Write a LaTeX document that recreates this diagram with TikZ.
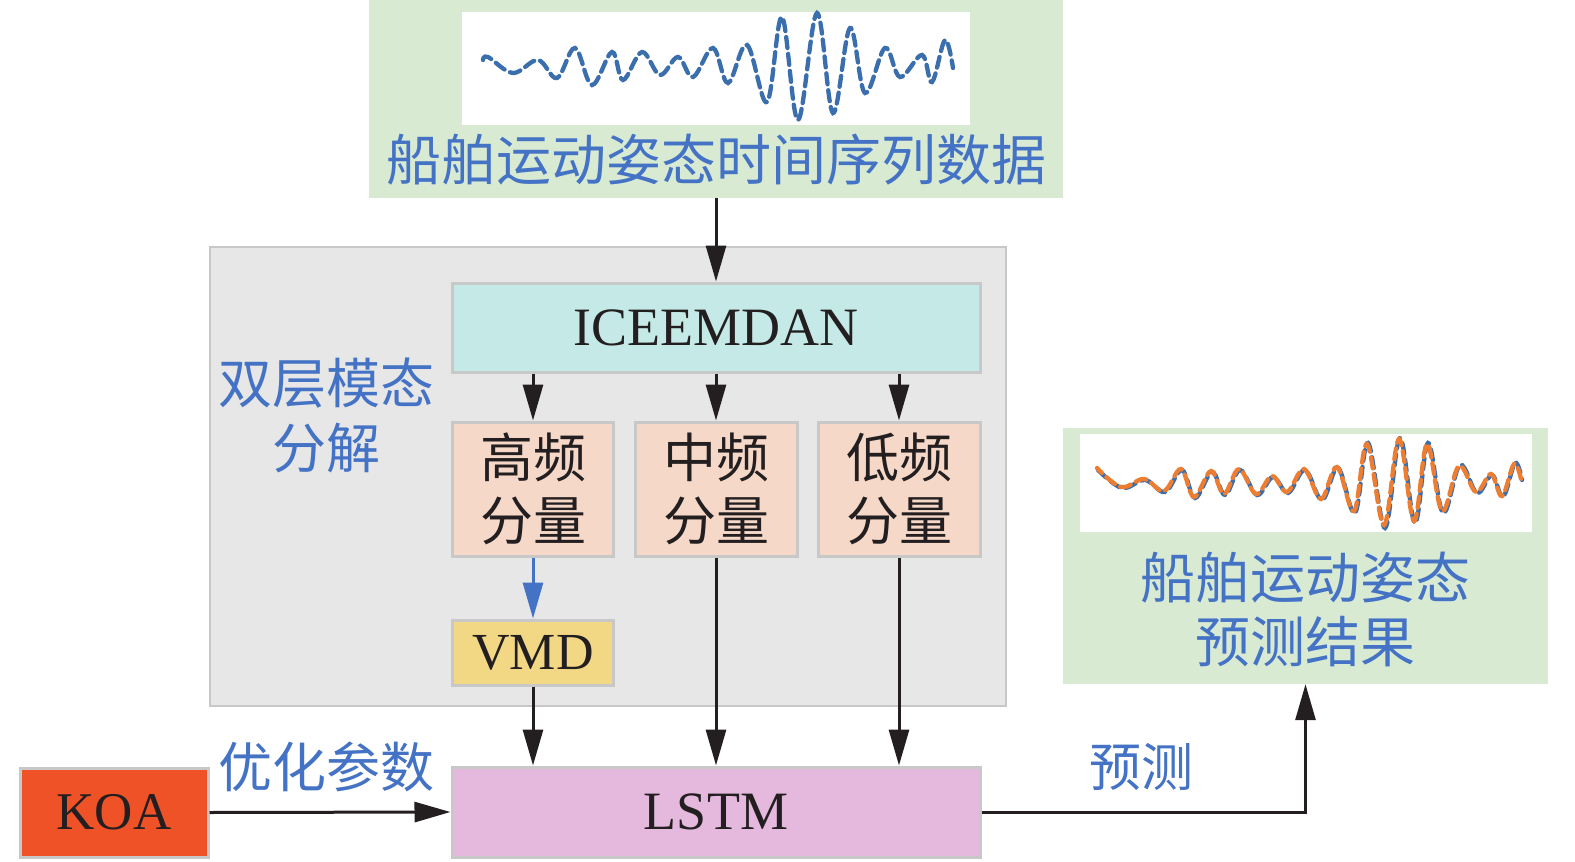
\documentclass[tikz,border=0pt]{standalone}
\usepackage{fontspec}
\setmainfont{Liberation Serif}
\newfontfamily\cjk{Noto Sans CJK SC}
\usetikzlibrary{arrows.meta}
\definecolor{lgreen}{RGB}{217,234,211}
\definecolor{gbox}{RGB}{231,231,231}
\definecolor{gline}{RGB}{200,200,200}
\definecolor{cyanf}{RGB}{197,233,231}
\definecolor{peach}{RGB}{246,216,200}
\definecolor{gold}{RGB}{242,215,133}
\definecolor{lilac}{RGB}{229,184,222}
\definecolor{koaf}{RGB}{240,82,40}
\definecolor{tblue}{RGB}{68,114,196}
\definecolor{wblue}{RGB}{58,110,172}
\definecolor{worange}{RGB}{237,125,49}
\definecolor{ink}{RGB}{35,31,32}
\tikzset{
  box/.style={draw=gline, line width=3pt, inner sep=0pt, anchor=center, text=ink},
  arr/.style={draw=ink, line width=3pt, -{Triangle[length=36pt,width=20pt]}},
  lat/.style={font=\fontsize{54}{60}\selectfont},
  cjkt/.style={font=\cjk\fontsize{53}{63}\selectfont, align=center},
  bluet/.style={cjkt, text=tblue},
  wave/.style={line width=4.3pt, dash pattern=on 11pt off 6pt, line cap=round}
}
\begin{document}
\begin{tikzpicture}[x=1pt,y=-1pt]
\useasboundingbox (0,0) rectangle (1575,862);
% top data box
\node[fill=lgreen, minimum width=694pt, minimum height=198pt, inner sep=0pt] (top) at (716,99) {};
\fill[white] (462,12) rectangle (970,125);
\draw[wave, wblue] plot[smooth, tension=0.6] coordinates {(483,60) (488,57) (513,73) (538,60) (557,78) (575,48) (592,85) (612,52) (623,80) (642,52) (660,75) (678,57) (693,77) (713,48) (728,83) (747,45) (767,102) (782,17) (798,120) (817,13) (833,113) (850,28) (865,93) (885,48) (900,77) (922,55) (932,82) (945,40) (953,68)};
\node[bluet, font=\cjk\fontsize{55}{60}\selectfont] (title) at (716,160) {船舶运动姿态时间序列数据};
% bilayer decomposition box
\node[box, fill=gbox, line width=2pt, minimum width=796pt, minimum height=459pt] (bi) at (608,476.5) {};
\node[bluet, font=\cjk\fontsize{54}{65}\selectfont] (bilab) at (326,415) {双层模态\\分解};
\node[box, fill=cyanf, lat, minimum width=528pt, minimum height=89pt] (ice) at (716,327.5) {ICEEMDAN};
\node[box, fill=peach, cjkt, minimum width=161pt, minimum height=134pt] (hi) at (533,489) {高频\\分量};
\node[box, fill=peach, cjkt, minimum width=162pt, minimum height=134pt] (mid) at (716,489) {中频\\分量};
\node[box, fill=peach, cjkt, minimum width=162pt, minimum height=134pt] (lo) at (899,489) {低频\\分量};
\node[box, fill=gold, lat, font=\fontsize{52}{60}\selectfont, minimum width=161pt, minimum height=65pt] (vmd) at (533,652.5) {VMD};
% bottom row
\node[box, fill=lilac, lat, minimum width=528pt, minimum height=90pt] (lstm) at (716,812) {LSTM};
\node[box, fill=koaf, lat, font=\fontsize{53}{60}\selectfont, minimum width=188pt, minimum height=89pt] (koa) at (114,812.5) {KOA};
\node[bluet, font=\cjk\fontsize{54}{60}\selectfont] (opt) at (326,767) {优化参数};
% result box
\node[fill=lgreen, minimum width=485pt, minimum height=256pt, inner sep=0pt] (res) at (1305.5,556) {};
\fill[white] (1080,434) rectangle (1532,532);
\draw[wave, wblue] plot[smooth, tension=0.6] coordinates {(1098,470) (1122,488) (1145,480) (1165,492) (1182,470) (1195,498) (1212,472) (1225,495) (1240,470) (1257,495) (1273,477) (1288,493) (1305,470) (1322,500) (1338,468) (1355,513) (1368,443) (1385,528) (1400,438) (1415,523) (1428,443) (1443,513) (1460,465) (1477,493) (1492,475) (1503,497) (1515,463) (1522,480)};
\draw[wave, worange, dash phase=4pt] plot[smooth, tension=0.6] coordinates {(1097,468) (1121,487) (1144,479) (1164,491) (1181,469) (1194,497) (1211,471) (1224,494) (1239,469) (1256,494) (1272,476) (1287,492) (1304,469) (1321,499) (1337,467) (1354,511) (1367,444) (1384,525) (1399,439) (1414,521) (1427,444) (1442,511) (1459,466) (1476,492) (1491,474) (1502,496) (1514,464) (1521,479)};
\node[bluet, font=\cjk\fontsize{55}{64}\selectfont] (reslab) at (1305,609) {船舶运动姿态\\预测结果};
\node[bluet, font=\cjk\fontsize{52}{60}\selectfont] (pred) at (1141,767) {预测};
% connectors
\draw[arr] (top.south) -- (ice.north);
\draw[arr] (hi.north |- ice.south) -- (hi.north);
\draw[arr] (mid.north |- ice.south) -- (mid.north);
\draw[arr] (lo.north |- ice.south) -- (lo.north);
\draw[arr, draw=tblue, fill=tblue] (hi.south) -- (vmd.north);
\draw[arr] (vmd.south) -- (vmd.south |- lstm.north);
\draw[arr] (mid.south) -- (mid.south |- lstm.north);
\draw[arr] (lo.south) -- (lo.south |- lstm.north);
\draw[arr] (koa.east) -- (lstm.west);
\draw[arr] (lstm.east) -| (res.south);
\end{tikzpicture}
\end{document}
